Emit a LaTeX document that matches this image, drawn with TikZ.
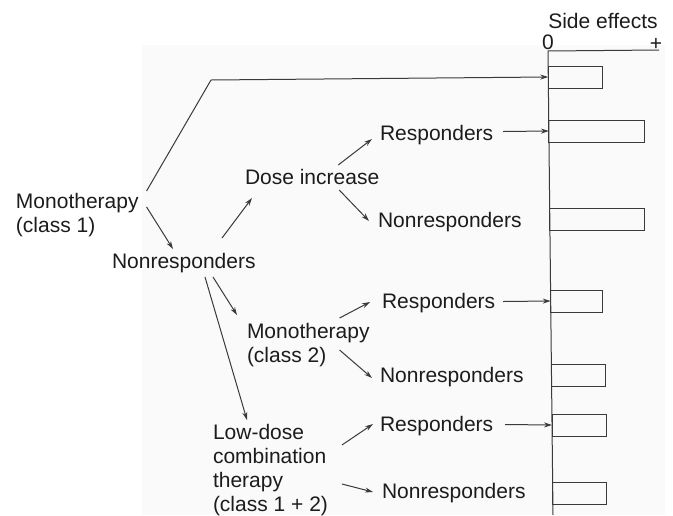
\documentclass[tikz,border=0pt]{standalone}
\usepackage{fontspec}
\setmainfont{Liberation Sans}
\usetikzlibrary{arrows.meta}
\definecolor{ink}{HTML}{1C1C1C}
\definecolor{wire}{HTML}{3A3A3A}
\begin{document}
\begin{tikzpicture}[x=1pt,y=-1pt,
  every node/.style={inner sep=0pt,outer sep=0pt,text=ink,
    font=\fontsize{21}{24}\selectfont},
  lbl/.style={anchor=base west,text height=15pt,text depth=4pt},
  multi/.style={anchor=north west,align=left},
  link/.style={draw=wire,line width=1pt,-{Stealth[length=8pt,width=5pt]}},
  plain/.style={draw=wire,line width=1pt},
  bar/.style={draw=wire,line width=1pt,anchor=west,minimum height=22pt}]
\useasboundingbox (0,0) rectangle (673,515);
% faint tint of the chart area
\fill[black!2] (142,45) rectangle (665,515);

% side-effect scale
\coordinate (axtop) at (548,51);
\coordinate (axend) at (659,50);
\coordinate (axbot) at (553,515);
\draw[plain] (axend) -- (axtop) -- (axbot);
\node[anchor=base] (side) at (603,28) {Side effects};
\node[anchor=base] (zero) at (548,49) {0};
\node[anchor=base] (plus) at (656,50) {+};

% bars
\node[bar,minimum width=53.7pt] (bar1) at (548.3,77) {};
\node[bar,minimum width=96pt]   (bar2) at (548.9,131) {};
\node[bar,minimum width=95pt]   (bar3) at (549.8,219.5) {};
\node[bar,minimum width=52pt]   (bar4) at (550.7,301) {};
\node[bar,minimum width=53.5pt] (bar5) at (551.5,375) {};
\node[bar,minimum width=54pt]   (bar6) at (552.0,425) {};
\node[bar,minimum width=54pt]   (bar7) at (552.8,493) {};

% treatment labels
\node[multi] (mono1) at (16,193) {Monotherapy\\(class 1)};
\node[lbl] (nr0) at (112,268) {Nonresponders};
\node[lbl] (dose) at (245,184) {Dose increase};
\node[lbl] (r1) at (380,140) {Responders};
\node[lbl] (n1) at (378,227) {Nonresponders};
\node[multi] (mono2) at (247,323) {Monotherapy\\(class 2)};
\node[lbl] (r2) at (382,308) {Responders};
\node[lbl] (n2) at (380,382) {Nonresponders};
\node[multi] (low) at (213,424) {Low-dose\\combination\\therapy\\(class 1 + 2)};
\node[lbl] (r3) at (380,431) {Responders};
\node[lbl] (n3) at (382,498) {Nonresponders};

% first-line responders go straight to the scale
\coordinate (bend) at (211,80);
\draw[link] ([shift={(8,-2)}]mono1.north east) -- (bend) -- (bar1.west);
\draw[link] ([shift={(8,14)}]mono1.north east) -- ([shift={(61,-4)}]nr0.north west);

% second line
\draw[link] ([shift={(110,-15)}]nr0.north west) -- ([shift={(7,10)}]dose.south west);
\draw[link] ([shift={(101,5)}]nr0.south west) -- ([shift={(-10,-8)}]mono2.north west);
\draw[link] ([shift={(93,5)}]nr0.south west) -- ([shift={(34,-4)}]low.north west);

% dose increase
\draw[link] ([shift={(-41,-4)}]dose.north east) -- ([shift={(-8,4.5)}]r1.west);
\draw[link] ([shift={(-40,2)}]dose.south east) -- ([shift={(-9,-0.5)}]n1.west);
\draw[link] ([shift={(10,-3)}]r1.east) -- (bar2.west);

% monotherapy class 2
\draw[link] ([shift={(-30,-5)}]mono2.north east) -- ([shift={(-12,-0.5)}]r2.west);
\draw[link] ([shift={(-30,27)}]mono2.north east) -- ([shift={(-8,1.5)}]n2.west);
\draw[link] ([shift={(8,-1)}]r2.east) -- (bar4.west);

% low-dose combination
\draw[link] ([shift={(14,21)}]low.north east) -- ([shift={(-7,-1.5)}]r3.west);
\draw[link] ([shift={(14,60)}]low.north east) -- ([shift={(-9,-0.5)}]n3.west);
\draw[link] ([shift={(12,-1)}]r3.east) -- (bar6.west);
\end{tikzpicture}
\end{document}
